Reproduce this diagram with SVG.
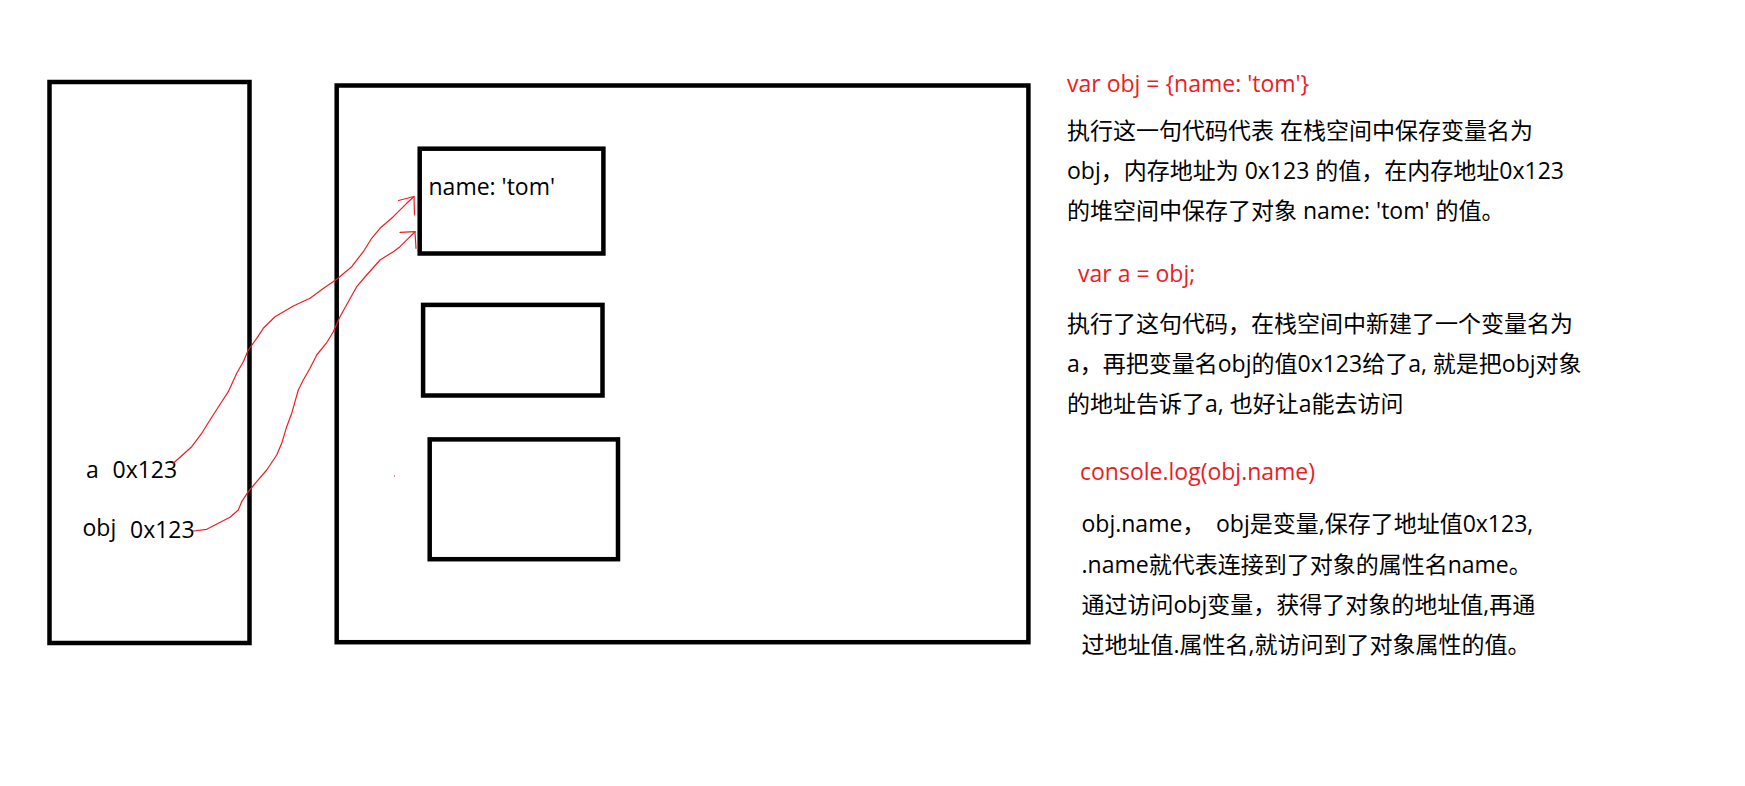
<svg xmlns="http://www.w3.org/2000/svg" width="1745" height="786" viewBox="0 0 1745 786">
<style>
.box{fill:none;stroke:#000;stroke-width:4.5}
.t{font-family:"Open Sans","Noto Sans CJK SC",sans-serif;font-size:23px;fill:#000}
.r{fill:#ed1c24}
.wire{fill:none;stroke:#ed1c24;stroke-width:1.2;stroke-linejoin:round;stroke-linecap:round}
</style>
<rect width="1745" height="786" fill="#fff"/>
<g id="stack">
<rect class="box" x="49.5" y="82" width="200" height="561"/>
<text class="t" x="86" y="478">a</text>
<text class="t" x="112.5" y="478">0x123</text>
<text class="t" x="82.5" y="536">obj</text>
<text class="t" x="130" y="538">0x123</text>
</g>
<g id="heap">
<rect class="box" x="336.7" y="85.5" width="691.7" height="556.7"/>
</g>
<g id="object1">
<rect class="box" x="419.7" y="148.7" width="183.7" height="104.8"/>
<text class="t" x="428.5" y="194.5">name: 'tom'</text>
</g>
<g id="object2">
<rect class="box" x="423.1" y="304.9" width="179.4" height="90.6"/>
</g>
<g id="object3">
<rect class="box" x="429.7" y="439.4" width="188.3" height="119.8"/>
</g>
<g id="connectors">
<polyline class="wire" points="173.3,463.3 191.7,446.7 201.7,433.3 210,420 221.7,401.7 228.3,391.7 236.7,373.3 243.3,361.7 248.3,350 256.7,338.3 263.3,328.3 275,316.7 293.3,306 310,298.3 325,287.3 336.7,279.3 351.7,266.7 363.3,251.7 371.7,238.3 380,228.3 393.3,216.7 406.7,203.3 414,196.5"/>
<path class="wire" d="M398.5,200.5 L414,196.5 L414.5,215"/>
<polyline class="wire" points="193.3,531 206.7,529.3 218.3,523.3 230,517.3 238.3,510 241.7,501.7 248.3,491.7 256.7,481.7 266.7,470 276.7,455 281.7,443.3 286.7,426.7 291.7,413.3 295,401.7 298.3,390 303.3,380 310,368.3 316.7,355 326.7,342.7 333.3,331.7 340,316.7 348.3,301.7 356.7,286.7 366.7,275 380,260 393.3,251.7 400,246.7 408.3,238.3 415,231.7"/>
<path class="wire" d="M400,232.3 L415,231.7 L416,248.3"/>
<rect x="394" y="475.5" width="1" height="1" fill="#ed1c24"/>
</g>
<g id="note1">
<text class="t r" x="1067" y="92">var obj = {name: 'tom'}</text>
<text class="t" x="1067" y="139">执行这一句代码代表 在栈空间中保存变量名为</text>
<text class="t" x="1067" y="179">obj，内存地址为 0x123 的值，在内存地址0x123</text>
<text class="t" x="1067" y="219">的堆空间中保存了对象 name: 'tom' 的值。</text>
</g>
<g id="note2">
<text class="t r" x="1078" y="282">var a = obj;</text>
<text class="t" x="1067" y="332">执行了这句代码，在栈空间中新建了一个变量名为</text>
<text class="t" x="1067" y="372">a，再把变量名obj的值0x123给了a, 就是把obj对象</text>
<text class="t" x="1067" y="412">的地址告诉了a, 也好让a能去访问</text>
</g>
<g id="note3">
<text class="t r" x="1080" y="480">console.log(obj.name)</text>
<text class="t" x="1081.5" y="532">obj.name，<tspan x="1216">obj是变量,保存了地址值0x123,</tspan></text>
<text class="t" x="1081.5" y="572.5">.name就代表连接到了对象的属性名name。</text>
<text class="t" x="1081.5" y="613">通过访问obj变量，获得了对象的地址值,再通</text>
<text class="t" x="1081.5" y="653">过地址值.属性名,就访问到了对象属性的值。</text>
</g>
</svg>
